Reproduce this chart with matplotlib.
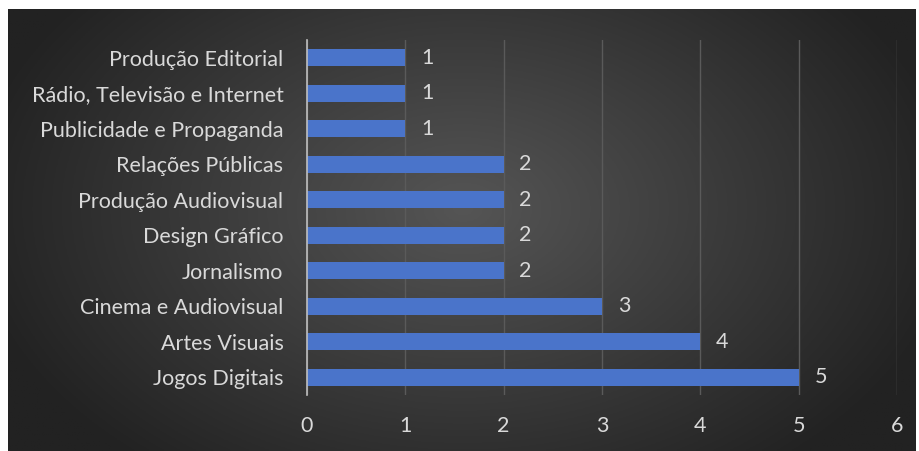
import numpy as np
import matplotlib
matplotlib.use("Agg")
import matplotlib.pyplot as plt

categories = ["Produção Editorial", "Rádio, Televisão e Internet", "Publicidade e Propaganda",
              "Relações Públicas", "Produção Audiovisual", "Design Gráfico", "Jornalismo",
              "Cinema e Audiovisual", "Artes Visuais", "Jogos Digitais"]
values = [1, 1, 1, 2, 2, 2, 2, 3, 4, 5]
xticks = [0, 1, 2, 3, 4, 5, 6]

plt.rcParams['font.family'] = ['Lato', 'DejaVu Sans']
W, H = 920, 451
fig = plt.figure(figsize=(W/100, H/100), dpi=100)
fig.patch.set_facecolor("white")

# background panel with radial gradient
bg = fig.add_axes([8/W, 0, (916-8)/W, (451-9)/H])
bg.axis("off")
ny, nx = 200, 400
yy, xx = np.mgrid[0:ny, 0:nx]
cx, cy = nx*0.5, ny*0.45
r = np.sqrt(((xx-cx)/(nx*0.55))**2 + ((yy-cy)/(ny*0.75))**2)
r = np.clip(r, 0, 1)
inner = np.array([0x55, 0x55, 0x55]) / 255
outer = np.array([0x22, 0x22, 0x22]) / 255
img = inner[None, None, :] * (1 - r[..., None]) + outer[None, None, :] * r[..., None]
bg.imshow(img, aspect="auto", extent=[0, 1, 0, 1], origin="upper")
bg.set_xlim(0, 1); bg.set_ylim(0, 1)

ax = fig.add_axes([307/W, (451-395)/H, (897-307)/W, (395-40)/H])
ax.patch.set_alpha(0)
n = len(categories)
ypos = np.arange(n)[::-1]
bh = 0.48
ax.barh(ypos, values, height=bh, color="#4a74ca", zorder=3, linewidth=0)
for y, v in zip(ypos, values):
    ax.text(v + 0.16, y, str(v), va="center", ha="left", color="#d9d9d9", fontsize=15.5)

ax.set_xlim(0, 6)
ax.set_ylim(-0.5, n - 0.5)
ax.set_xticks(xticks)
ax.set_xticklabels([str(t) for t in xticks])
ax.set_yticks(ypos)
ax.set_yticklabels(categories)
ax.tick_params(axis="both", length=0, colors="#d9d9d9", labelsize=15.5)
ax.tick_params(axis="y", pad=17)
ax.tick_params(axis="x", pad=15)
ax.grid(axis="x", color="#5a5a5a", linewidth=1, zorder=0)
for s in ["top", "right", "bottom"]:
    ax.spines[s].set_visible(False)
ax.spines["left"].set_color("#bfbfbf")
ax.spines["left"].set_linewidth(1.2)
ax.spines["left"].set_zorder(4)

fig.savefig("out.png", dpi=100, facecolor="white")
